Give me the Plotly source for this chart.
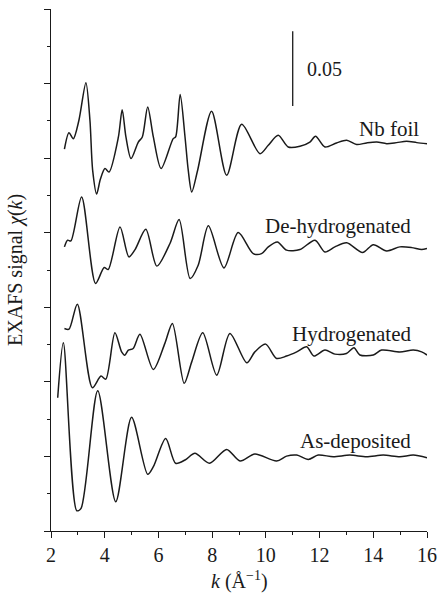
import plotly.graph_objects as go

# ---- data ----
k_nb = [2.50, 2.67, 2.83, 3.04, 3.30, 3.45, 3.55, 3.70, 3.84, 4.01, 4.16, 4.51, 4.65, 4.79, 4.98, 5.25, 5.40,
        5.60, 5.81, 6.10, 6.55, 6.64, 6.81, 6.99, 7.11, 7.24, 7.46, 7.98, 8.54, 9.10, 9.78, 10.09, 10.46,
        10.83, 11.27, 11.64, 11.85, 12.20, 12.63, 13.01, 13.38, 13.75, 14.13, 14.50, 14.87, 15.24, 15.62, 16.0]
chi_nb = [0.256, 0.267, 0.263, 0.2754, 0.3006, 0.2754, 0.242, 0.226, 0.236, 0.243, 0.2407, 0.2642, 0.2825,
          0.2642, 0.2497, 0.2608, 0.2642, 0.2843, 0.2642, 0.2430, 0.2631, 0.2642, 0.2926, 0.2642, 0.2419,
          0.2273, 0.2419, 0.2815, 0.2385, 0.2727, 0.2530, 0.2586, 0.2653, 0.2575, 0.258, 0.2608, 0.2647,
          0.2575, 0.2602, 0.262, 0.2591, 0.2602, 0.2608, 0.2597, 0.2604, 0.2613, 0.2604, 0.2597]

k_dh = [2.50, 2.62, 2.74, 3.14, 3.66, 3.98, 4.13, 4.57, 4.90, 5.13, 5.53, 5.94, 6.43, 6.77, 7.18, 7.48,
        7.86, 8.44, 8.97, 9.53, 9.84, 10.09, 10.43, 10.77, 11.27, 11.83, 12.20, 12.57, 13.01, 13.60, 14.0,
        14.50, 14.99, 15.43, 15.80, 16.0]
chi_dh = [0.1905, 0.195, 0.1945, 0.224, 0.166, 0.1767, 0.1753, 0.2039, 0.1838, 0.1887, 0.2023, 0.1776,
          0.1928, 0.2088, 0.1693, 0.1782, 0.2046, 0.1764, 0.2001, 0.1860, 0.186, 0.1905, 0.1938, 0.1883,
          0.1887, 0.195, 0.1871, 0.1905, 0.1932, 0.1867, 0.192, 0.1878, 0.1905, 0.19, 0.1887, 0.1894]

k_hy = [2.50, 2.67, 2.98, 3.54, 3.86, 4.04, 4.38, 4.63, 4.75, 4.88, 5.06, 5.31, 5.81, 6.24, 6.52, 6.96,
        7.24, 7.65, 8.17, 8.66, 9.29, 9.59, 9.99, 10.40, 10.77, 11.15, 11.52, 11.79, 12.20, 12.57, 13.0,
        13.28, 13.50, 14.0, 14.31, 14.99, 15.49, 15.80, 16.0]
chi_hy = [0.1358, 0.1353, 0.1521, 0.096, 0.1039, 0.1018, 0.1329, 0.1201, 0.1179, 0.1213, 0.1224, 0.132,
          0.1083, 0.1258, 0.1392, 0.099, 0.1134, 0.1329, 0.1045, 0.1325, 0.1128, 0.1201, 0.1253, 0.1157,
          0.1173, 0.1201, 0.1235, 0.1173, 0.1213, 0.1186, 0.119, 0.1228, 0.118, 0.118, 0.1213, 0.1201,
          0.1213, 0.1201, 0.118]

k_ad = [2.25, 2.46, 2.96, 3.12, 3.74, 4.41, 5.00, 5.60, 5.81, 6.27, 6.64, 6.99, 7.36, 7.90, 8.54, 9.04,
        9.59, 10.40, 10.77, 11.15, 11.58, 11.95, 12.51, 13.13, 13.75, 14.37, 14.99, 15.49, 16.0]
chi_ad = [0.0893, 0.1262, 0.0136, 0.0152, 0.094, 0.0196, 0.0762, 0.038, 0.0431, 0.0621, 0.0454, 0.0476,
          0.0521, 0.0454, 0.0547, 0.0469, 0.0516, 0.0469, 0.0502, 0.0509, 0.048, 0.0509, 0.0498, 0.0509,
          0.0498, 0.0509, 0.0498, 0.0509, 0.0491]

labels = ["Nb foil", "De-hydrogenated", "Hydrogenated", "As-deposited"]
label_k = [15.78, 15.48, 15.49, 15.49]
label_chi = [0.2693, 0.2044, 0.1323, 0.0603]

scale_k = 11.0
scale_bottom = 0.285
scale_len = 0.05
scale_text = "0.05"

x_ticks = [2, 4, 6, 8, 10, 12, 14, 16]

FONT = "Liberation Serif"
INK = "#1a1a1a"

fig = go.Figure()
for kk, cc in [(k_nb, chi_nb), (k_dh, chi_dh), (k_hy, chi_hy), (k_ad, chi_ad)]:
    fig.add_trace(go.Scatter(x=kk, y=cc, mode="lines",
                             line=dict(color=INK, width=1.5, shape="spline", smoothing=0.8),
                             showlegend=False, hoverinfo="skip"))

for t, xk, yc in zip(labels, label_k, label_chi):
    fig.add_annotation(x=xk, y=yc, text=t, showarrow=False, xanchor="right", yanchor="middle",
                       font=dict(family=FONT, size=21, color=INK))

fig.add_shape(type="line", x0=scale_k, x1=scale_k, y0=scale_bottom, y1=scale_bottom + scale_len,
              line=dict(color=INK, width=1.3))
fig.add_annotation(x=scale_k, y=scale_bottom + scale_len / 2, text=scale_text, showarrow=False,
                   xanchor="left", yanchor="middle", xshift=12,
                   font=dict(family=FONT, size=20, color=INK))

# axis titles as annotations (paper coordinates)
fig.add_annotation(xref="paper", yref="paper", x=0.5, y=0, yshift=-49, text="<i>k</i> (Å<sup>−1</sup>)",
                   showarrow=False, xanchor="center", yanchor="middle",
                   font=dict(family=FONT, size=20, color=INK))
fig.add_annotation(xref="paper", yref="paper", x=0, y=0.5, xshift=-36, text="EXAFS signal <i>χ</i>(<i>k</i>)",
                   showarrow=False, xanchor="center", yanchor="middle", textangle=-90,
                   font=dict(family=FONT, size=20, color=INK))

fig.update_layout(
    width=439, height=599,
    margin=dict(l=51, r=12, t=9, b=68, autoexpand=False),
    paper_bgcolor="white", plot_bgcolor="white",
    font=dict(family=FONT, size=20, color=INK),
)
fig.update_xaxes(range=[2, 16], tickvals=x_ticks, ticks="outside", ticklen=6, tickwidth=1,
                 tickcolor=INK, showline=True, linecolor=INK, linewidth=1, showgrid=False,
                 zeroline=False, automargin=False,
                 minor=dict(dtick=1, ticks="outside", ticklen=3, tickcolor=INK),
                 tickfont=dict(family=FONT, size=20, color=INK))
fig.update_yaxes(range=[0, 0.35], dtick=0.05, tick0=0, ticks="outside", ticklen=6, tickwidth=1,
                 tickcolor=INK, showline=True, linecolor=INK, linewidth=1, showgrid=False,
                 zeroline=False, showticklabels=False, automargin=False,
                 minor=dict(dtick=0.025, ticks="outside", ticklen=3, tickcolor=INK))

fig.write_html("out.html", config={"displayModeBar": False, "staticPlot": True},
               post_script="document.body.style.margin='0';document.body.style.overflow='hidden';")
